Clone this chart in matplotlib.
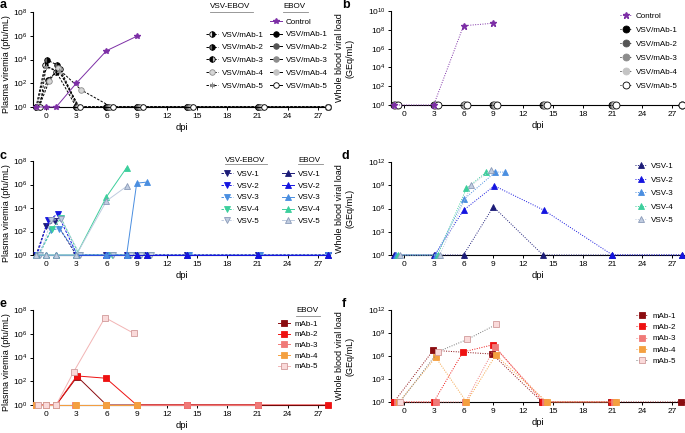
import matplotlib
matplotlib.use("Agg")
import matplotlib.pyplot as plt
import matplotlib.ticker as ticker
from matplotlib.legend import Legend
from matplotlib.lines import Line2D

plt.rcParams['font.family'] = ['Liberation Sans', 'DejaVu Sans']
plt.rcParams['mathtext.fontset'] = 'custom'
plt.rcParams['mathtext.rm'] = 'Liberation Sans'
plt.rcParams['mathtext.default'] = 'regular'
plt.rcParams['font.size'] = 6

W, H = 685, 433
dpiTicks = list(range(0, 28, 3))

# ---- panel a: plasma viremia, NHP groups (pfu/mL) ----
aLabels = ["VSV/mAb-1", "VSV/mAb-2", "VSV/mAb-3", "VSV/mAb-4", "VSV/mAb-5"]
aCtrlX = [-1, 0, 1, 3, 6, 9]
aCtrlY = [1, 1, 1, 100, 5.5e4, 9e5]
aVsvX = [
    [-1.0, -0.1, 1.0, 3.0, 6.0, 9.0, 14.0, 21.0, 28.0],
    [-0.9, 0.1, 1.1, 3.1, 6.1, 9.1, 14.1, 21.1, 28.0],
    [-0.8, 0.15, 1.4, 3.2, 6.2, 9.2, 14.2, 21.2, 28.0],
    [-0.7, 0.3, 1.2, 3.5, 6.5, 9.5, 14.5, 21.5, 28.0],
    [-0.6, 0.0, 1.3, 3.3, 6.3, 9.3, 14.3, 21.3, 28.0],
]
aVsvY = [
    [1, 3500, 950, 1, 1, 1, 1, 1, 1],
    [1, 9000, 3500, 1, 1, 1, 1, 1, 1],
    [1, 200, 1600, 1, 1, 1, 1, 1, 1],
    [1, 150, 1800, 27, 1, 1, 1, 1, 1],
    [1, 2500, 1000, 1, 1, 1, 1, 1, 1],
]
aEbovX = [
    [-1.0, 3.0, 6.0, 9.0, 14.0, 21.0, 28.0],
    [-0.9, 3.1, 6.1, 9.1, 14.1, 21.1, 28.0],
    [-0.8, 3.2, 6.3, 9.3, 14.3, 21.3, 28.0],
    [-0.7, 3.3, 6.5, 9.5, 14.5, 21.5, 28.0],
    [-0.6, 3.4, 6.6, 9.6, 14.6, 21.6, 28.0],
]
aEbovY = [[1, 1, 1, 1, 1, 1, 1]] * 5

# ---- panel b: whole blood viral load (GEq/mL) ----
bCtrlX = [-1, 3, 6, 9]
bCtrlY = [1, 1, 2.7e8, 5e8]
bX = [
    [-1.0, 3.0, 6.0, 9.0, 14.0, 21.0, 28.0],
    [-0.9, 3.1, 6.1, 9.1, 14.1, 21.1, 28.0],
    [-0.8, 3.2, 6.2, 9.2, 14.2, 21.2, 28.0],
    [-0.7, 3.3, 6.3, 9.3, 14.3, 21.3, 28.0],
    [-0.6, 3.4, 6.4, 9.4, 14.4, 21.4, 28.0],
]
bY = [[1, 1, 1, 1, 1, 1, 1]] * 5

# ---- panel c: plasma viremia, VSV groups ----
cLabels = ["VSV-1", "VSV-2", "VSV-3", "VSV-4", "VSV-5"]
cVsvX = [
    [-1.0, 0.0, 0.9, 3.0, 6.0, 8.0, 9.0, 10.0, 14.0, 21.0, 28.0],
    [-0.9, 0.2, 1.15, 3.1, 6.1, 8.1, 9.1, 10.1, 14.1, 21.1, 28.0],
    [-0.8, 0.5, 1.3, 3.2, 6.2, 8.2, 9.2, 10.2, 14.2, 21.2, 28.0],
    [-0.7, 0.6, 1.5, 3.3, 6.5, 8.3, 9.3, 10.3],
    [-0.6, 0.5, 1.5, 3.4, 6.6, 8.4, 9.4, 10.4],
]
cVsvY = [
    [1, 290, 760, 1, 1, 1, 1, 1, 1, 1, 1],
    [1, 930, 3000, 1, 1, 1, 1, 1, 1, 1, 1],
    [1, 130, 180, 1, 1, 1, 1, 1, 1, 1, 1],
    [1, 180, 1300, 1, 1, 1, 1, 1],
    [1, 900, 1100, 1, 1, 1, 1, 1],
]
cEbovX = [
    [-1, 0, 1, 3, 6, 8, 9, 10, 14, 21, 28],
    [-1, 0, 1, 3, 6, 8, 9, 10, 14, 21, 28],
    [-1, 0, 1, 3, 6, 8, 9, 10],
    [-1, 0, 1, 3, 6, 8],
    [-1, 0, 1, 3, 6, 8],
]
cEbovY = [
    [1] * 11,
    [1] * 11,
    [1, 1, 1, 1, 1, 1, 1.3e6, 1.6e6],
    [1, 1, 1, 1, 9e4, 2.7e7],
    [1, 1, 1, 1, 4e4, 7e5],
]

# ---- panel d: whole blood, VSV groups ----
dX = [
    [-1.0, 3.0, 6.0, 9.0, 14.0, 21.0, 28.0],
    [-0.9, 3.1, 6.0, 9.1, 14.1, 21.0, 28.0],
    [-0.8, 3.2, 6.1, 9.2, 10.2],
    [-0.6, 3.4, 6.3, 8.3],
    [-0.4, 3.6, 6.8, 8.8],
]
dY = [
    [1, 1, 1, 1.7e6, 1, 1, 1],
    [1, 1, 6e5, 8.5e8, 6e5, 1, 1],
    [1, 1, 1.8e7, 5e10, 5e10],
    [1, 1, 4e8, 5e10],
    [1, 1, 1e9, 1e11],
]

# ---- panel e: plasma viremia, mAb groups ----
eLabels = ["mAb-1", "mAb-2", "mAb-3", "mAb-4", "mAb-5"]
eX = [
    [-1, 0, 1, 3.1, 6.0, 9.0, 14.0, 21.0],
    [-1, 0, 1, 3.05, 5.95, 9.0, 14.0, 21.0, 28.0],
    [-1, 0, 1, 2.9, 6.0, 9.0, 14.0, 21.0],
    [-1, 0, 1, 3.0, 6.0, 9.0],
    [-0.8, 0, 1, 2.75, 5.85, 8.7],
]
eY = [
    [1, 1, 1, 245, 1, 1, 1, 1],
    [1, 1, 1, 280, 180, 1, 1, 1, 1],
    [1, 1, 1, 1, 1, 1, 1, 1],
    [1, 1, 1, 1, 1, 1],
    [1, 1, 1, 640, 2.3e7, 1.1e6],
]

# ---- panel f: whole blood, mAb groups ----
fX = [
    [-1.0, 2.95, 8.9, 13.9, 20.9, 27.9],
    [-1.0, 3.0, 5.95, 9.0, 14.0, 21.0],
    [-0.7, 3.2, 6.2, 9.15, 14.2, 21.2],
    [-0.5, 3.2, 6.3, 9.25, 14.4, 21.4],
    [-0.4, 3.45, 6.4, 9.3],
]
fY = [
    [1, 5.5e6, 1.8e6, 1, 1, 1],
    [1, 1, 3.3e6, 3e7, 1, 1],
    [1, 1, 1, 1.3e7, 1, 1],
    [1, 6.7e5, 1, 1.3e6, 1, 1],
    [1, 3.7e6, 1.5e8, 1.3e10],
]

purple = "#7d2fa6"
grays = ["black", "#555555", "#8c8c8c", "#c4c4c4", "white"]
blues = ["#1c1c78", "#1515e0", "#4a8ee0", "#3ccf9c", "#c0cce0"]
blueEdges = ["#1c1c78", "#1515e0", "#4a8ee0", "#3ccf9c", "#8a9ab8"]
reds = ["#8b0c10", "#ee1111", "#f07a78", "#f4a040", "#fadada"]
redEdges = ["#8b0c10", "#ee1111", "#f07a78", "#f4a040", "#d09a9a"]
redLines = ["#8b0c10", "#ee1111", "#f07a78", "#f4a040", "#f2b4b4"]

dashed = (0, (2.5, 1.5))
dotted = (0, (1, 1.5))
lw = 0.7
legendSize = 5.8


def fx(px):
    return px / W


def fy(py):
    return 1 - py / H


def makeAxes(fig, left, top, right, bottom):
    return fig.add_axes([fx(left), fy(bottom), (right - left) / W, (bottom - top) / H])


def setupAxes(ax, topExp, step, ylabel, labelX, labelY=0.5):
    ax.set_yscale('log')
    ax.set_ylim(1, 10.0 ** topExp)
    ax.set_xlim(-1.3, 28.2)
    ax.set_xticks(dpiTicks)
    ax.set_yticks([10.0 ** k for k in range(0, topExp + 1, step)])
    ax.yaxis.set_major_formatter(ticker.LogFormatterMathtext())
    ax.yaxis.set_minor_locator(ticker.NullLocator())
    ax.xaxis.set_minor_locator(ticker.NullLocator())
    for s in ("top", "right"):
        ax.spines[s].set_visible(False)
    for s in ("left", "bottom"):
        ax.spines[s].set_linewidth(0.8)
    ax.tick_params(length=2.5, width=0.7, pad=1.5, labelsize=6)
    ax.set_xlabel("dpi", fontsize=6.8)
    ax.xaxis.set_label_coords(0.5, -0.17)
    ax.set_ylabel(ylabel, fontsize=6.5, linespacing=1.15)
    ax.yaxis.set_label_coords(labelX, labelY)


def addLegend(ax, handles, labels, left, top, spacing):
    leg = Legend(ax, handles, labels, loc='upper left',
                 bbox_to_anchor=(fx(left), fy(top)), bbox_transform=ax.figure.transFigure,
                 frameon=False, fontsize=legendSize, handlelength=1.5, handletextpad=0.5,
                 borderpad=0, borderaxespad=0, labelspacing=spacing)
    ax.add_artist(leg)
    return leg


def header(fig, text, left, y, width):
    fig.text(fx(left), fy(y), text, fontsize=legendSize, ha='left', va='center')
    fig.add_artist(Line2D([fx(left), fx(left + width)], [fy(y + 4.5), fy(y + 4.5)],
                          color="#888888", lw=0.6, transform=fig.transFigure))


fig = plt.figure(figsize=(W / 100, H / 100), dpi=100)

# ================= a =================
ax = makeAxes(fig, 33, 12, 330, 107)
setupAxes(ax, 8, 2, "Plasma viremia (pfu/mL)", -0.075, 0.45)
vsvStyles = [
    dict(marker='o', fillstyle='right', markerfacecolor='black', markerfacecoloralt='#e4e4e4', markeredgecolor='black'),
    dict(marker='o', fillstyle='right', markerfacecolor='black', markerfacecoloralt='#666666', markeredgecolor='black'),
    dict(marker='o', fillstyle='left', markerfacecolor='black', markerfacecoloralt='#bdbdbd', markeredgecolor='black'),
    dict(marker='o', markerfacecolor='#d6d6d6', markeredgecolor='#8c8c8c'),
    dict(marker=(6, 2, 0), markerfacecolor='#8c8c8c', markeredgecolor='#8c8c8c'),
]
vsvHandles = []
for xs, ys, st in zip(aVsvX, aVsvY, vsvStyles):
    h, = ax.plot(xs, ys, color='black', ls=dashed, lw=lw, ms=4, mew=0.6, clip_on=False, zorder=3, **st)
    vsvHandles.append(h)
ebovHandles = []
for i, (xs, ys) in enumerate(zip(aEbovX, aEbovY)):
    h, = ax.plot(xs, ys, color='black', ls='-', lw=lw, marker='o', ms=4, mew=0.6,
                 markerfacecolor=grays[i], markeredgecolor='black' if i in (0, 4) else grays[i],
                 clip_on=False, zorder=3)
    ebovHandles.append(h)
ctrl, = ax.plot(aCtrlX, aCtrlY, color=purple, lw=lw, marker='*', ms=4, clip_on=False, zorder=4)
addLegend(ax, vsvHandles, aLabels, 206, 31, 0.64)
addLegend(ax, [ctrl] + ebovHandles, ["Control"] + aLabels, 270, 18, 0.64)
header(fig, "VSV-EBOV", 210, 7, 43)
header(fig, "EBOV", 283, 7, 25)
fig.text(0.0, fy(5), "a", fontsize=9, fontweight='bold', va='center')

# ================= b =================
ax = makeAxes(fig, 391, 11, 684, 105)
setupAxes(ax, 10, 2, "Whole blood viral load\n(GEq/mL)", -0.125)
bHandles = []
for i, (xs, ys) in enumerate(zip(bX, bY)):
    h, = ax.plot(xs, ys, color='black', ls=dotted, lw=lw, marker='o', ms=5, mew=0.6,
                 markerfacecolor=grays[i], markeredgecolor='black' if i in (0, 4) else grays[i],
                 clip_on=False, zorder=3)
    bHandles.append(h)
ctrlB, = ax.plot(bCtrlX, bCtrlY, color=purple, ls=dotted, lw=lw, marker='*', ms=4.5, clip_on=False, zorder=4)
addLegend(ax, [ctrlB] + bHandles, ["Control"] + aLabels, 620, 12.5, 0.78)
fig.text(fx(342), fy(5), "b", fontsize=9, fontweight='bold', va='center')

# ================= c =================
ax = makeAxes(fig, 33, 161, 330, 255)
setupAxes(ax, 8, 2, "Plasma viremia (pfu/mL)", -0.075, 0.45)
cVsvHandles, cEbovHandles = [], []
for i, (xs, ys) in enumerate(zip(cVsvX, cVsvY)):
    h, = ax.plot(xs, ys, color=blues[i], ls=dashed, lw=lw, marker='v', ms=4, mew=0.6,
                 markerfacecolor=blues[i], markeredgecolor=blueEdges[i], clip_on=False, zorder=3)
    cVsvHandles.append(h)
for i, (xs, ys) in enumerate(zip(cEbovX, cEbovY)):
    h, = ax.plot(xs, ys, color=blues[i], ls='-', lw=lw, marker='^', ms=4, mew=0.6,
                 markerfacecolor=blues[i], markeredgecolor=blueEdges[i], clip_on=False, zorder=3)
    cEbovHandles.append(h)
addLegend(ax, cVsvHandles, cLabels, 221, 170, 0.53)
addLegend(ax, cEbovHandles, cLabels, 282, 170, 0.53)
header(fig, "VSV-EBOV", 225, 160, 42)
header(fig, "EBOV", 298, 160, 25)
fig.text(0.0, fy(156), "c", fontsize=9, fontweight='bold', va='center')

# ================= d =================
ax = makeAxes(fig, 391, 162, 684, 255)
setupAxes(ax, 12, 3, "Whole blood viral load\n(GEq/mL)", -0.125)
dHandles = []
for i, (xs, ys) in enumerate(zip(dX, dY)):
    h, = ax.plot(xs, ys, color=blues[i], ls=dotted, lw=lw, marker='^', ms=4.5, mew=0.6,
                 markerfacecolor=blues[i], markeredgecolor=blueEdges[i], clip_on=False, zorder=3)
    dHandles.append(h)
addLegend(ax, dHandles, cLabels, 635, 162.5, 0.73)
fig.text(fx(342), fy(156), "d", fontsize=9, fontweight='bold', va='center')

# ================= e =================
ax = makeAxes(fig, 33, 310, 330, 405)
setupAxes(ax, 8, 2, "Plasma viremia (pfu/mL)", -0.075, 0.45)
eHandles = []
for i, (xs, ys) in enumerate(zip(eX, eY)):
    h, = ax.plot(xs, ys, color=redLines[i], ls='-', lw=lw, marker='s', ms=4, mew=0.6,
                 markerfacecolor=reds[i], markeredgecolor=redEdges[i], clip_on=False, zorder=3)
    eHandles.append(h)
addLegend(ax, eHandles, eLabels, 278, 320, 0.38)
header(fig, "EBOV", 296, 311, 24)
fig.text(0.0, fy(304), "e", fontsize=9, fontweight='bold', va='center')

# ================= f =================
ax = makeAxes(fig, 391, 310, 684, 402)
setupAxes(ax, 12, 3, "Whole blood viral load\n(GEq/mL)", -0.125)
fHandles = []
for i, (xs, ys) in enumerate(zip(fX, fY)):
    lineColor = "#777777" if i == 4 else reds[i]
    h, = ax.plot(xs, ys, color=lineColor, ls=dotted, lw=lw, marker='s', ms=4, mew=0.6,
                 markerfacecolor=reds[i], markeredgecolor=redEdges[i], clip_on=False, zorder=3)
    fHandles.append(h)
addLegend(ax, fHandles, eLabels, 636, 312, 0.46)
fig.text(fx(342), fy(304), "f", fontsize=9, fontweight='bold', va='center')

fig.savefig("out.png", dpi=100)
